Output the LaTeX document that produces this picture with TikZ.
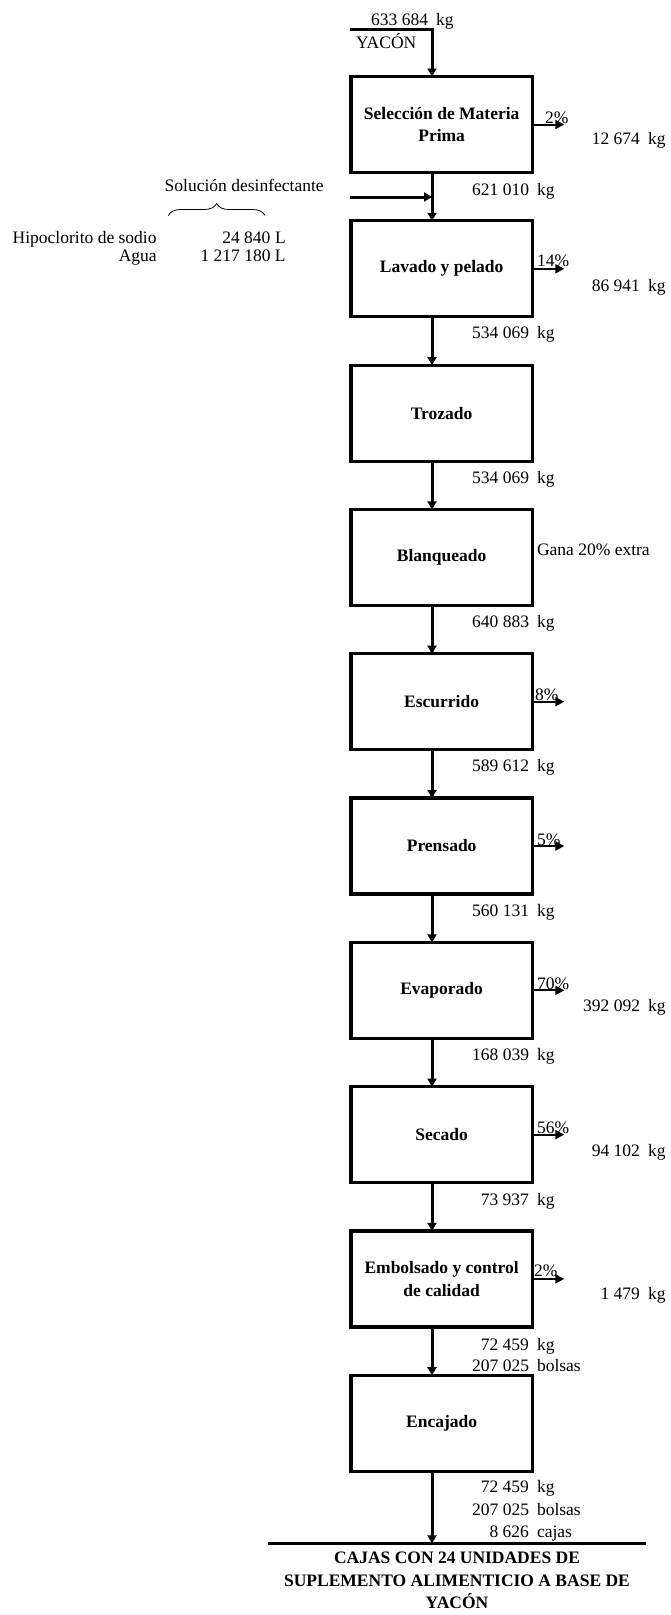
\documentclass[tikz,border=0pt]{standalone}
\usepackage{fontspec}
\setmainfont{Liberation Serif}
\usetikzlibrary{arrows.meta,decorations.pathreplacing}
% number right-aligned before a fixed point, unit after it
\newcommand{\mq}[2]{\llap{#1\hspace{8pt}}#2}

\begin{document}
\begin{tikzpicture}[x=1pt,y=-1pt,
  every node/.style={font=\fontsize{17.5}{22.5}\selectfont, inner sep=0pt, outer sep=0pt},
  proc/.style={draw, line width=3.2pt, minimum width=181.3pt, minimum height=96pt,
    align=center, font=\fontsize{17.5}{22.5}\selectfont\bfseries},
  flow/.style={line width=3pt, -{Triangle[length=8pt,width=9pt]}},
  side/.style={line width=2pt, -{Triangle[length=9pt,width=9pt]}},
  lbl/.style={anchor=base west},
]
\fill[white] (0,0) rectangle (670,1615);
\useasboundingbox (0,0) rectangle (670,1615);

% process boxes
\node[proc] (sel) at (441.65,124.5)  {Selección de Materia\\Prima};
\node[proc] (lav) at (441.65,268.8)  {Lavado y pelado};
\node[proc] (tro) at (441.65,413.1)  {Trozado};
\node[proc] (bla) at (441.65,557.4)  {Blanqueado};
\node[proc] (esc) at (441.65,701.7)  {Escurrido};
\node[proc] (pre) at (441.65,846)    {Prensado};
\node[proc] (eva) at (441.65,990.3)  {Evaporado};
\node[proc] (sec) at (441.65,1134.6) {Secado};
\node[proc] (emb) at (441.65,1278.9) {Embolsado y control\\de calidad};
\node[proc] (enc) at (441.65,1423.2) {Encajado};

% main flow, slightly left of the box centres
\foreach \a/\b in {sel/lav,lav/tro,tro/bla,bla/esc,esc/pre,pre/eva,eva/sec,sec/emb,emb/enc}
  \draw[flow] ([xshift=-9.65pt]\a.south) -- ([xshift=-9.65pt]\b.north);

% raw material input
\coordinate (yacon) at (350,29);
\draw[flow] (yacon) -| ([xshift=-9.65pt]sel.north);
\node[lbl] (m0) at (436,25) {\mq{633 684}{kg}};
\node[lbl] (yac) at (356,48) {YACÓN};

% disinfecting solution
\coordinate (solin) at (350,197);
\coordinate (mix) at (432,197);
\draw[flow] (solin) -- (mix);
\node[anchor=base] (soltxt) at (244.2,191.7) {Solución desinfectante};
\draw[decorate, decoration={brace, amplitude=12pt}, line width=0.8pt] (168.3,215.5) -- (265,215.5);
\node[lbl] (hip) at (12.7,243) {Hipoclorito de sodio};
\node[anchor=base east] (agua) at (156.7,261.5) {Agua};
\node[lbl] (hipq) at (275,243) {\llap{24 840\hspace{4.5pt}}L};
\node[lbl] (aguaq) at (275,261.5) {\llap{1 217 180\hspace{4.5pt}}L};

% side outputs
\foreach \n in {sel,lav,esc,pre,eva,sec,emb}
  \draw[side] (\n.east) -- ([xshift=32pt]\n.east);
\node[lbl] (p1) at (545,123)    {2\%};
\node[lbl] (p2) at (537,266.7)  {14\%};
\node[lbl] (p5) at (535,700)    {8\%};
\node[lbl] (p6) at (537,845)    {5\%};
\node[lbl] (p7) at (537,989.3)  {70\%};
\node[lbl] (p8) at (537,1133.3) {56\%};
\node[lbl] (p9) at (534,1276.7) {2\%};
\node[lbl] (gana) at (537,555)  {Gana 20\% extra};

\node[lbl] (w1) at (648,144)    {\mq{12 674}{kg}};
\node[lbl] (w2) at (648,291.7)  {\mq{86 941}{kg}};
\node[lbl] (w7) at (648,1011.7) {\mq{392 092}{kg}};
\node[lbl] (w8) at (648,1156)   {\mq{94 102}{kg}};
\node[lbl] (w9) at (648,1299.3) {\mq{1 479}{kg}};

% stream quantities
\node[lbl] (s1) at (537,195)    {\mq{621 010}{kg}};
\node[lbl] (s2) at (537,338.3)  {\mq{534 069}{kg}};
\node[lbl] (s3) at (537,483.3)  {\mq{534 069}{kg}};
\node[lbl] (s4) at (537,627.3)  {\mq{640 883}{kg}};
\node[lbl] (s5) at (537,771.7)  {\mq{589 612}{kg}};
\node[lbl] (s6) at (537,916.7)  {\mq{560 131}{kg}};
\node[lbl] (s7) at (537,1060)   {\mq{168 039}{kg}};
\node[lbl] (s8) at (537,1205)   {\mq{73 937}{kg}};
\node[lbl] (s9a) at (537,1350)  {\mq{72 459}{kg}};
\node[lbl] (s9b) at (537,1371.7){\mq{207 025}{bolsas}};
\node[lbl] (s10a) at (537,1492.3){\mq{72 459}{kg}};
\node[lbl] (s10b) at (537,1515)  {\mq{207 025}{bolsas}};
\node[lbl] (s10c) at (537,1537.3){\mq{8 626}{cajas}};

% final product
\coordinate (pl) at (268.3,1543.3);
\coordinate (pr) at (646,1543.3);
\coordinate (pin) at (432,1543.3);
\draw[line width=3pt] (pl) -- (pr);
\draw[flow] ([xshift=-9.65pt]enc.south) -- (pin);
\node[anchor=north, align=center, font=\fontsize{17.5}{22.5}\selectfont\bfseries] (prod) at (457,1552.2)
  {CAJAS CON 24 UNIDADES DE\\SUPLEMENTO ALIMENTICIO A BASE DE\\YACÓN};
\end{tikzpicture}
\end{document}
